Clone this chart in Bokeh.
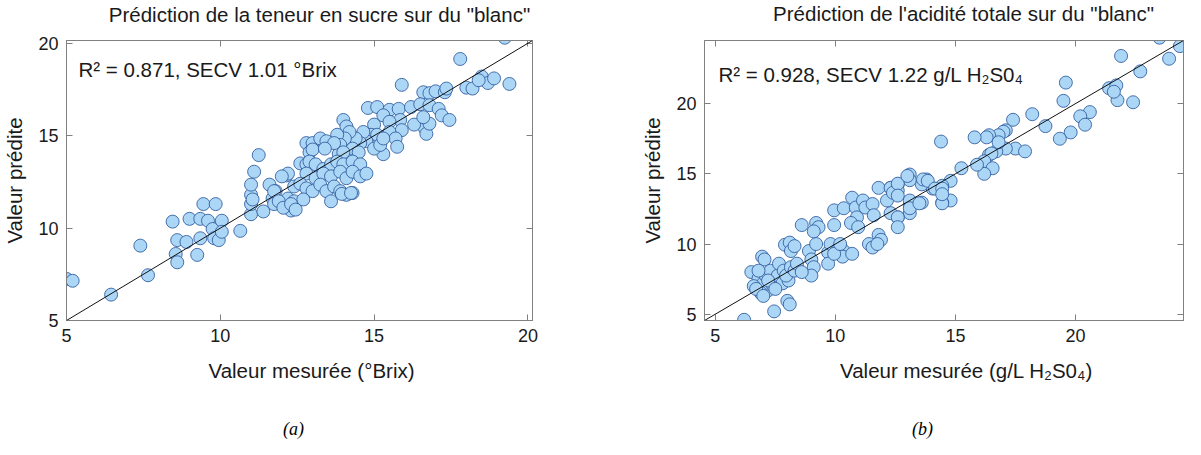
from bokeh.plotting import figure
from bokeh.models import LinearAxis, Label, Slope, FixedTicker, Range1d
from bokeh.layouts import row, column
from bokeh.embed import file_html
from bokeh.resources import INLINE

# ---------------- data (a): sugar content, °Brix ----------------
sugar_measured = [5.0, 5.2, 6.45, 7.4, 7.65, 8.45, 8.55, 8.6, 8.6, 8.9, 9.0, 9.25, 9.35, 9.35, 9.45,
                  9.6, 9.75, 9.85, 9.8, 9.95, 10.05, 10.05, 10.65, 11.0, 11.0, 11.0, 11.1, 11.25, 11.0,
                  11.05, 11.4, 11.6, 11.7, 11.75, 11.8, 12.15, 12.2, 12.3,
                  19.25, 17.8, 15.9, 19.4, 18.0, 18.2, 18.5, 18.7, 18.9, 18.4,
                  16.6, 16.8, 17.0, 17.3, 17.35,
                  14.8, 15.1, 15.5, 15.8, 16.2, 16.5, 16.8, 17.1, 17.2,
                  17.45, 16.65, 16.7, 16.8, 16.3, 16.6,
                  15.85, 15.9, 15.3, 15.5, 15.5, 15.7, 15.75, 15.3,
                  15.0, 14.9, 15.1, 14.75, 15.0, 15.2, 15.3,
                  14.65, 14.55, 14.4, 14.3, 14.5,
                  14.0, 14.1, 14.2, 14.05,
                  13.8, 13.9, 13.85, 14.0,
                  12.8, 13.0, 13.25, 13.45, 13.7, 12.9, 13.0, 13.4,
                  12.2, 12.0,
                  12.6, 12.8, 12.9, 13.1, 13.35, 13.6, 13.8, 14.0, 14.3, 14.55,
                  12.8, 13.1, 13.35, 13.6, 13.9, 14.1, 14.3, 14.55, 14.75,
                  12.4, 12.6, 12.8, 13.0, 13.25, 13.45, 13.7, 13.9, 14.1, 14.3,
                  12.4, 12.7, 13.6, 13.95, 14.25,
                  11.75, 11.9, 12.05, 12.3, 12.45]
sugar_predicted = [7.25, 7.15, 6.4, 9.05, 7.45, 10.35, 8.6, 8.15, 9.35, 9.25, 10.5, 8.55, 9.45, 10.5, 11.3,
                   10.4, 9.95, 11.3, 9.45, 9.35, 10.4, 9.8, 9.85, 10.75, 11.8, 12.35, 13.05, 13.95, 11.3,
                   11.55, 10.9, 12.35, 11.6, 11.3, 12.0, 12.85, 11.6, 10.95,
                   20.3, 19.15, 17.75, 17.8, 17.6, 17.55, 18.2, 17.85, 18.1, 18.0,
                   17.35, 17.3, 17.4, 17.35, 17.55,
                   16.5, 16.55, 16.4, 16.45, 16.55, 16.7, 16.65, 16.45, 16.1,
                   15.85, 15.4, 15.1, 15.65, 15.6, 16.0,
                   15.85, 15.3, 16.1, 15.75, 15.2, 14.85, 14.4, 14.0,
                   15.6, 15.05, 15.05, 14.7, 14.3, 14.5, 14.85,
                   15.2, 14.6, 14.85, 14.3, 14.1,
                   15.85, 15.5, 15.2, 14.85,
                   15.05, 14.5, 14.0, 14.1,
                   14.6, 14.6, 14.85, 14.7, 14.6, 14.1, 14.25, 14.3,
                   12.95, 12.8,
                   13.5, 13.45, 13.6, 13.45, 13.2, 13.45, 13.6, 13.45, 13.6, 13.45,
                   12.95, 12.7, 12.95, 12.8, 13.05, 12.7, 13.05, 12.8, 12.95,
                   12.25, 12.4, 12.15, 12.0, 12.35, 12.0, 12.25, 12.0, 11.8, 11.9,
                   11.45, 11.55, 11.45, 11.85, 11.9,
                   12.0, 11.45, 11.1, 11.3, 11.0]

# ---------------- data (b): total acidity, g/L H2SO4 ----------------
acid_measured = [23.5, 24.35, 23.9, 21.9, 22.7, 22.4, 21.75, 21.4, 21.7, 21.6, 19.6, 19.5, 20.6, 20.2,
                 20.4, 19.8, 19.35, 18.2, 18.75, 17.4, 17.1, 17.0, 16.8, 16.4, 16.3, 15.8, 17.5, 17.9,
                 17.1, 16.7, 16.4, 16.8, 14.4, 16.5, 16.2, 16.55, 16.2, 15.9, 15.25, 14.8, 14.45, 14.8,
                 14.45, 14.05, 13.6, 13.1, 13.1, 12.6, 13.8, 13.6, 13.1, 13.1, 12.6, 12.3, 12.3, 12.6,
                 6.2, 7.45, 8.0, 8.1, 6.5, 6.95, 7.05, 6.8, 7.0, 7.2, 7.4, 7.1, 7.3, 6.8, 7.6, 7.65,
                 7.85, 7.8, 8.05, 7.95, 8.15, 8.3, 7.9, 8.1, 8.15, 8.3, 8.6, 8.9, 9.0, 9.2, 9.1, 9.0,
                 9.2, 9.3, 9.1, 9.7, 9.7, 9.8, 9.95, 9.95, 10.35, 10.1, 10.35, 10.3, 10.7, 9.95, 10.2,
                 10.7, 10.85, 10.9, 10.65, 10.95, 11.15, 11.25, 11.55, 11.6, 11.8, 12.15, 12.3, 12.4,
                 12.6, 12.6, 12.6, 12.6, 13.0, 13.1, 13.1, 11.4, 11.55, 11.8, 11.9, 11.75, 13.65, 13.85,
                 13.5, 14.15, 14.45, 14.45, 14.45,
                 6.6, 6.9, 7.2, 7.5, 8.4, 8.6, 6.7, 7.0]
acid_predicted = [24.7, 24.1, 23.2, 23.4, 22.3, 20.1, 20.25, 21.1, 21.3, 20.85, 21.5, 20.2, 19.4, 19.1,
                  18.5, 17.95, 17.5, 19.25, 18.4, 18.85, 18.1, 18.0, 17.75, 17.75, 17.6, 17.6, 16.8, 16.6,
                  16.8, 16.6, 16.35, 17.25, 17.3, 16.45, 15.9, 15.4, 15.0, 15.65, 15.4, 14.5, 14.15, 13.1,
                  12.95, 13.95, 14.25, 14.95, 14.55, 14.25, 14.6, 12.95, 12.75, 12.2, 11.9, 12.2, 14.0, 13.8,
                  4.6, 5.2, 5.95, 5.7, 8.0, 9.1, 8.9, 7.55, 7.2, 6.7, 7.05, 7.75, 8.1, 8.1, 7.75, 8.6,
                  8.1, 7.2, 7.4, 7.75, 8.35, 8.1, 9.95, 10.1, 9.5, 9.85, 11.35, 9.5, 8.9, 10.0, 8.35, 7.75,
                  11.5, 11.2, 10.9, 9.4, 8.6, 10.0, 11.35, 12.4, 12.55, 9.6, 9.5, 9.1, 9.3, 9.3, 10.0,
                  13.3, 12.6, 11.9, 11.5, 11.2, 13.1, 12.6, 12.85, 12.05, 14.0, 13.1, 14.0, 13.65,
                  14.3, 13.45, 11.9, 11.2, 14.85, 13.1, 12.55, 10.0, 9.75, 10.65, 10.3, 10.0, 14.6, 14.5,
                  12.9, 13.95, 13.95, 12.9, 13.55,
                  7.0, 6.5, 7.4, 6.8, 8.6, 8.0, 6.8, 6.3]

ticks = [5, 10, 15, 20]
range_a = (5.0, 20.15)
range_b = (4.55, 24.5)

title_a = 'Prédiction de la teneur en sucre sur du "blanc"'
title_b = "Prédiction de l'acidité totale sur du \"blanc\""
note_a = "R² = 0.871, SECV 1.01 °Brix"
note_b = "R² = 0.928, SECV 1.22 g/L H₂S0₄"
xlabel_a = "Valeur mesurée (°Brix)"
xlabel_b = "Valeur mesurée (g/L H₂S0₄)"
ylabel = "Valeur prédite"
caption_a = "(a)"
caption_b = "(b)"

FONT = "Liberation Sans"
FRAME = "#808080"
TXT = "#1a1a1a"
W_A, W_B = 592, 593
H_TOP, H_MID, H_BOT = 28, 326, 85


def blank(width, height):
    b = figure(width=width, height=height, x_range=Range1d(0, 1), y_range=Range1d(0, 1),
               x_axis_location=None, y_axis_location=None, toolbar_location=None,
               output_backend="svg", min_border=0)
    b.grid.visible = False
    b.outline_line_color = None
    b.background_fill_color = "white"
    b.border_fill_color = "white"
    return b


def text_label(fig, x, y, text, size="20.5px", font=FONT, style="normal", color=TXT):
    fig.add_layout(Label(x=x, y=y, x_units="screen", y_units="screen", text=text,
                         text_align="center", text_baseline="middle", text_font=font,
                         text_font_style=style, text_font_size=size, text_color=color))


def make_panel(xs, ys, rng, note, note_pos, width, borders):
    bl, br, bt, bb = borders
    p = figure(width=width, height=H_MID, x_range=Range1d(*rng), y_range=Range1d(*rng),
               output_backend="svg", toolbar_location=None,
               min_border_left=bl, min_border_right=br, min_border_top=bt,
               min_border_bottom=bb)
    p.grid.visible = False
    p.outline_line_color = FRAME
    p.outline_line_width = 1
    p.background_fill_color = "white"
    p.border_fill_color = "white"

    for ax in (p.xaxis[0], p.yaxis[0]):
        ax.ticker = FixedTicker(ticks=ticks)
        ax.major_tick_in = 6
        ax.major_tick_out = 0
        ax.minor_tick_line_color = None
        ax.axis_line_color = FRAME
        ax.major_tick_line_color = FRAME
        ax.major_label_text_font = FONT
        ax.major_label_text_font_size = "18px"
        ax.major_label_text_color = TXT
    p.xaxis[0].major_label_standoff = 8
    p.yaxis[0].major_label_standoff = 8
    p.yaxis[0].axis_label = ylabel
    p.yaxis[0].axis_label_text_font = FONT
    p.yaxis[0].axis_label_text_font_size = "20.5px"
    p.yaxis[0].axis_label_text_font_style = "normal"
    p.yaxis[0].axis_label_text_color = TXT
    p.yaxis[0].axis_label_standoff = 9

    for side in ("above", "right"):
        ax = LinearAxis(ticker=FixedTicker(ticks=ticks), major_tick_in=6, major_tick_out=0,
                        minor_tick_line_color=None, axis_line_color=FRAME,
                        major_tick_line_color=FRAME, major_label_text_font_size="1px",
                        major_label_text_color=None, major_label_standoff=0)
        p.add_layout(ax, side)

    p.scatter(xs, ys, size=13, marker="circle", fill_color="#acd6f6",
              line_color="#2d5a9e", line_width=1, line_alpha=0.85)
    p.add_layout(Slope(gradient=1, y_intercept=0, line_color="#111111", line_width=1))
    p.add_layout(Label(x=note_pos[0], y=note_pos[1], text=note, text_baseline="middle",
                       text_font=FONT, text_font_size="20.5px", text_color=TXT))
    return p


# page layout: top row 8..36, middle row 36..362, bottom row 362..447
# left frame 71..540 x 48..330 ; right frame 712..1191 x 38..328
pa = make_panel(sugar_measured, sugar_predicted, range_a, note_a, (5.39, 18.6),
                W_A, (63, 60, 12, 32))
pb = make_panel(acid_measured, acid_predicted, range_b, note_b, (5.13, 22.1),
                W_B, (112, 2, 2, 34))

ta = blank(W_A, H_TOP)
text_label(ta, 319, 14, title_a)
tb = blank(W_B, H_TOP)
text_label(tb, 371, 15, title_b)

ca = blank(W_A, H_BOT)
text_label(ca, 311, 69, xlabel_a)
text_label(ca, 293, 11, caption_a, size="18px", font="Liberation Serif", style="italic",
           color="black")
cb = blank(W_B, H_BOT)
text_label(cb, 374, 69, xlabel_b)
text_label(cb, 330, 11, caption_b, size="18px", font="Liberation Serif", style="italic",
           color="black")

layout = column(row(ta, tb), row(pa, pb), row(ca, cb))
open("out.html", "w").write(file_html(layout, INLINE))
